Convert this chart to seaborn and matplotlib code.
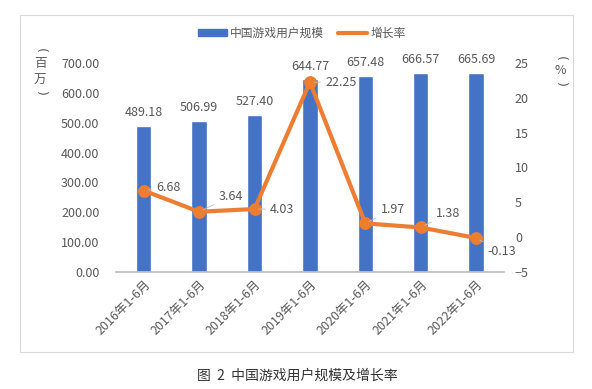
import matplotlib
matplotlib.use("Agg")
import matplotlib.pyplot as plt
import matplotlib.patches as mpatches
import matplotlib.lines as mlines
import numpy as np
import pandas as pd
import seaborn as sns

sns.set_theme(style="white")
plt.rcParams['font.family'] = ['Noto Sans CJK SC', 'DejaVu Sans']

# Data
periods = ["2016年1-6月", "2017年1-6月", "2018年1-6月", "2019年1-6月",
           "2020年1-6月", "2021年1-6月", "2022年1-6月"]
users = [489.18, 506.99, 527.40, 644.77, 657.48, 666.57, 665.69]
growth = [6.68, 3.64, 4.03, 22.25, 1.97, 1.38, -0.13]
# offsets (points) of the growth-rate labels
growth_offsets = [(9, 2), (14, 11), (11, 0), (11, 0), (11, 10), (11, 10), (8, -10)]

BAR_COLOR = "#4472C4"
LINE_COLOR = "#ED7D31"
TEXT_COLOR = "#595959"

df = pd.DataFrame({"period": periods, "users": users, "growth": growth})

fig = plt.figure(figsize=(5.92, 3.89), dpi=100)
ax = fig.add_axes([0.196, 0.301, 0.655, 0.537])

sns.barplot(data=df, x="period", y="users", color=BAR_COLOR, width=0.28,
            saturation=1, ax=ax)
ax.set_ylim(0, 700)
ax.set_yticks(np.arange(0, 701, 100))
ax.set_yticklabels([f"{v:.2f}" for v in np.arange(0, 701, 100)])
ax.set_xlim(-0.5, len(periods) - 0.5)

for i, v in enumerate(users):
    ax.annotate(f"{v:.2f}", (i, v), xytext=(0, 5), textcoords="offset points",
                ha="center", va="bottom", fontsize=9, color=TEXT_COLOR)

ax2 = ax.twinx()
sns.pointplot(data=df, x="period", y="growth", color=LINE_COLOR,
              markersize=7, linewidth=3, ax=ax2)
ax2.set_ylim(-5, 25)
ax2.set_yticks(np.arange(-5, 26, 5))
ax2.set_xlim(-0.5, len(periods) - 0.5)

for i, (v, off) in enumerate(zip(growth, growth_offsets)):
    ax2.annotate(f"{v:.2f}", (i, v), xytext=off, textcoords="offset points",
                 ha="left", va="center", fontsize=9, color=TEXT_COLOR,
                 arrowprops=dict(arrowstyle="-", color="#BFBFBF", lw=0.6,
                                 shrinkA=1, shrinkB=3))

for a in (ax, ax2):
    for s in a.spines.values():
        s.set_visible(False)
    a.set_xlabel("")
    a.set_ylabel("")
    a.tick_params(axis="y", length=0, labelsize=9, labelcolor=TEXT_COLOR)
ax.tick_params(axis="y", pad=12)
ax2.tick_params(axis="y", pad=8)
ax.spines["bottom"].set_visible(True)
ax.spines["bottom"].set_color("#BFBFBF")

ax.tick_params(axis="x", which="major", length=0, labelsize=9,
               labelcolor=TEXT_COLOR, pad=4)
ax.set_xticks(np.arange(-0.5, len(periods), 1), minor=True)
ax.tick_params(axis="x", which="minor", length=4, color="#BFBFBF", direction="out")
plt.setp(ax.get_xticklabels(), rotation=45, ha="right", rotation_mode="anchor")
ax2.tick_params(axis="x", which="both", length=0, labelbottom=False)

# axis unit labels (vertical text, one char at a time; brackets rotated)
for ch, ypx in zip(["(", "百", "万", ")"], [50, 63, 80, 93]):
    fig.text(40 / 592, 1 - ypx / 389, ch, ha="center", va="center",
             fontsize=9, color=TEXT_COLOR, rotation=-90 if ch in "()" else 0,
             family="DejaVu Sans" if ch in "()" else None)
for ch, ypx in zip(["(", "%", ")"], [58, 71, 84]):
    fig.text(560 / 592, 1 - ypx / 389, ch, ha="center", va="center",
             fontsize=9, color=TEXT_COLOR, rotation=-90 if ch in "()" else 0,
             family="DejaVu Sans" if ch in "()" else None)

# legend
handles = [mpatches.Patch(color=BAR_COLOR, label="中国游戏用户规模"),
           mlines.Line2D([], [], color=LINE_COLOR, lw=3, label="增长率")]
fig.legend(handles=handles, loc="center", bbox_to_anchor=(0.51, 0.915), ncol=2,
           frameon=False, fontsize=8.5, labelcolor=TEXT_COLOR,
           handlelength=2.4, handleheight=0.6, columnspacing=1.2, handletextpad=0.3)

# chart border
fig.patches.append(mpatches.Rectangle((0.034, 0.095), 0.934, 0.866,
                                      transform=fig.transFigure, fill=False,
                                      edgecolor="#D9D9D9", lw=0.8))

fig.text(0.502, 0.035, "图  2  中国游戏用户规模及增长率", ha="center", va="center",
         fontsize=10, color="#333333")

fig.savefig("out.png", dpi=100)
